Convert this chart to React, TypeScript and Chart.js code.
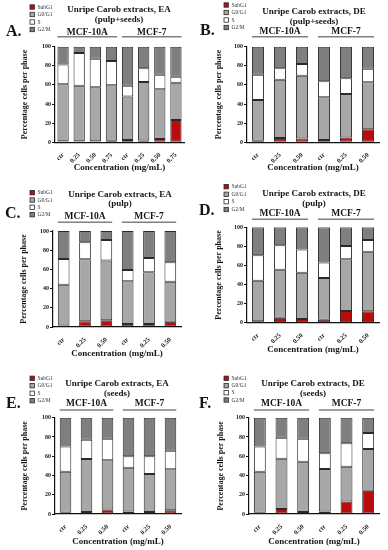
import React, { useEffect, useRef } from "react";
import { Chart, registerables } from "chart.js";
Chart.register(...registerables);

const FONT = "'Liberation Serif', 'Times New Roman', serif";

const PHASES = ["SubG1", "G0/G1", "S", "G2/M"];
const PHASE_COLORS = ["#b90d0d", "#a7a7a7", "#ffffff", "#7f7f7f"];
const GROUPS = ["MCF-10A", "MCF-7"];
const CONC_4 = ["ctr", "0.25", "0.50", "0.75"];
const CONC_3 = ["ctr", "0.25", "0.50"];
const Y_TICKS = [0, 20, 40, 60, 80, 100];
const X_TITLE = "Concentration (mg/mL)";
const Y_TITLE = "Percentage cells per phase";

// Panel A: EA (pulp+seeds)
const A_SUBG1 = [1, 1, 1, 1.5, 2.5, 2, 3.5, 23.3];
const A_G0G1 = [59.6, 58.2, 56.5, 58.1, 45.5, 61, 51.9, 39.1];
const A_S = [20.9, 34.2, 30, 25.4, 11.2, 14.4, 15.3, 6.2];
const A_G2M = [18.5, 6.6, 12.5, 15, 40.8, 22.6, 29.3, 31.4];

// Panel B: DE (pulp+seeds)
const B_SUBG1 = [1.5, 4.5, 4, 2.5, 5, 13.6];
const B_G0G1 = [42.8, 61, 65.7, 44.5, 45.5, 49.1];
const B_S = [26.4, 11.9, 12.3, 16.8, 16.5, 14.3];
const B_G2M = [29.3, 22.6, 18, 36.2, 33, 23];

// Panel C: EA (pulp)
const C_SUBG1 = [1.5, 6, 7, 3, 3, 5.5];
const C_G0G1 = [42.5, 64.5, 62.4, 44.6, 54, 41.7];
const C_S = [26.8, 17.7, 21.2, 11.8, 15, 20.2];
const C_G2M = [29.2, 11.8, 9.4, 40.6, 28, 32.6];

// Panel D: DE (pulp)
const D_SUBG1 = [1.5, 5.2, 4, 3, 12.2, 12];
const D_G0G1 = [42.5, 50.4, 48.4, 43.9, 54.2, 62.5];
const D_S = [26.6, 25.5, 24.2, 16.1, 14, 12.2];
const D_G2M = [29.4, 18.9, 23.4, 37, 19.6, 13.3];

// Panel E: EA (seeds)
const E_SUBG1 = [1.3, 2, 4.8, 2.5, 2, 3.8];
const E_G0G1 = [42.7, 55, 50.9, 45.5, 39.5, 42.6];
const E_S = [26.2, 20, 22.5, 12, 18.5, 19.3];
const E_G2M = [29.8, 23, 21.8, 40, 40, 34.3];

// Panel F: DE (seeds)
const F_SUBG1 = [1.3, 5.2, 2, 2.5, 13.1, 24.2];
const F_G0G1 = [42.7, 52.2, 52.3, 44.2, 36, 43.3];
const F_S = [26.2, 21.8, 23.9, 16.3, 24.3, 16.5];
const F_G2M = [29.8, 20.8, 21.8, 37, 26.6, 16];

type Layout = {
  left: number; top: number; w: number; h: number;
  plotLeft: number; plotRight: number; plotTop: number; plotBottom: number;
  yTitleX: number; xTitleY: number; titleX: number; titleY: number[];
  legendX: number; legendY: number[]; letterX: number; letterY: number;
  groupY: number; lineY: number; barPct: number;
};

type PanelDef = {
  letter: string;
  title: string[];
  conc: string[];
  series: number[][];
  layout: Layout;
};

const PANELS: PanelDef[] = [
  {
    letter: "A.", title: ["Unripe Carob extracts, EA", "(pulp+seeds)"], conc: CONC_4,
    series: [A_SUBG1, A_G0G1, A_S, A_G2M],
    layout: { left: 0, top: 0, w: 194, h: 180, plotLeft: 55, plotRight: 184, plotTop: 46.7, plotBottom: 142.3,
      yTitleX: 25, xTitleY: 168, titleX: 119, titleY: [10, 20], legendX: 30, legendY: [7, 14.5, 22, 29.5],
      letterX: 6, letterY: 36, groupY: 32.3, lineY: 36.7, barPct: 0.7 },
  },
  {
    letter: "B.", title: ["Unripe Carob extracts, DE", "(pulp+seeds)"], conc: CONC_3,
    series: [B_SUBG1, B_G0G1, B_S, B_G2M],
    layout: { left: 194, top: 0, w: 194, h: 180, plotLeft: 53, plotRight: 185, plotTop: 46.7, plotBottom: 142.3,
      yTitleX: 25, xTitleY: 168, titleX: 120, titleY: [12, 22], legendX: 30, legendY: [5, 12.5, 20, 27.5],
      letterX: 6, letterY: 35, groupY: 32, lineY: 36.7, barPct: 0.55 },
  },
  {
    letter: "C.", title: ["Unripe Carob extracts, EA", "(pulp)"], conc: CONC_3,
    series: [C_SUBG1, C_G0G1, C_S, C_G2M],
    layout: { left: 0, top: 180, w: 194, h: 180, plotLeft: 53, plotRight: 181, plotTop: 51, plotBottom: 147,
      yTitleX: 24, xTitleY: 173.3, titleX: 120, titleY: [15, 24], legendX: 30, legendY: [12.7, 20, 27.3, 34.7],
      letterX: 5, letterY: 37.7, groupY: 36.7, lineY: 42.3, barPct: 0.55 },
  },
  {
    letter: "D.", title: ["Unripe Carob extracts, DE", "(pulp)"], conc: CONC_3,
    series: [D_SUBG1, D_G0G1, D_S, D_G2M],
    layout: { left: 194, top: 180, w: 194, h: 180, plotLeft: 53, plotRight: 185, plotTop: 47.3, plotBottom: 142.7,
      yTitleX: 25, xTitleY: 169.3, titleX: 120, titleY: [13.3, 23.3], legendX: 30, legendY: [6.7, 14.3, 21.7, 29.5],
      letterX: 5, letterY: 35, groupY: 33.3, lineY: 39.3, barPct: 0.55 },
  },
  {
    letter: "E.", title: ["Unripe Carob extracts, EA", "(seeds)"], conc: CONC_3,
    series: [E_SUBG1, E_G0G1, E_S, E_G2M],
    layout: { left: 0, top: 360, w: 194, h: 190, plotLeft: 55, plotRight: 181, plotTop: 57.7, plotBottom: 154,
      yTitleX: 25, xTitleY: 181.7, titleX: 117, titleY: [23.3, 33.3], legendX: 30, legendY: [18.3, 25.7, 33.3, 40.7],
      letterX: 6, letterY: 48.3, groupY: 44, lineY: 50, barPct: 0.55 },
  },
  {
    letter: "F.", title: ["Unripe Carob extracts, DE", "(seeds)"], conc: CONC_3,
    series: [F_SUBG1, F_G0G1, F_S, F_G2M],
    layout: { left: 194, top: 360, w: 194, h: 190, plotLeft: 55, plotRight: 185, plotTop: 57.7, plotBottom: 154,
      yTitleX: 26.5, xTitleY: 181.7, titleX: 119, titleY: [23.3, 33.3], legendX: 30, legendY: [18.3, 25.7, 32.7, 40],
      letterX: 5, letterY: 48.3, groupY: 44, lineY: 50, barPct: 0.55 },
  },
];

const TEXT = "#151515";
const BORDER = "#2a2a2a";

function Panel({ def }: { def: PanelDef }) {
  const ref = useRef<HTMLCanvasElement | null>(null);
  useEffect(() => {
    const L = def.layout;
    const labels = [...def.conc, ...def.conc];
    const perGroup = def.conc.length;
    const yTitleLH = 8 * 1.2;
    const xTitleLH = 9 * 1.2;
    const padLeft = L.yTitleX - yTitleLH / 2;
    const yWidth = L.plotLeft - padLeft;
    const xScaleBottom = L.xTitleY + xTitleLH / 2;
    const padBottom = L.h - xScaleBottom;
    const xHeight = xScaleBottom - L.plotBottom;

    const annot = {
      id: "annot",
      afterDraw(chart: any) {
        const ctx = chart.ctx as CanvasRenderingContext2D;
        ctx.save();
        // panel letter
        ctx.fillStyle = TEXT;
        ctx.font = `bold 16px ${FONT}`;
        ctx.textAlign = "left";
        ctx.textBaseline = "alphabetic";
        ctx.fillText(def.letter, L.letterX, L.letterY);
        // title
        ctx.font = `bold 9px ${FONT}`;
        ctx.textAlign = "center";
        ctx.textBaseline = "middle";
        def.title.forEach((t, i) => ctx.fillText(t, L.titleX, L.titleY[i]));
        // legend
        ctx.font = `5.5px ${FONT}`;
        ctx.textAlign = "left";
        PHASES.forEach((p, i) => {
          const y = L.legendY[i];
          ctx.fillStyle = PHASE_COLORS[i];
          ctx.fillRect(L.legendX, y - 2.2, 4.4, 4.4);
          ctx.strokeStyle = BORDER;
          ctx.lineWidth = 0.8;
          ctx.strokeRect(L.legendX, y - 2.2, 4.4, 4.4);
          ctx.fillStyle = "#333";
          ctx.fillText(p, L.legendX + 7.5, y + 0.3);
        });
        // group labels
        const meta = chart.getDatasetMeta(0);
        GROUPS.forEach((g, gi) => {
          const first = meta.data[gi * perGroup];
          const last = meta.data[gi * perGroup + perGroup - 1];
          const x0 = first.x - first.width / 2;
          const x1 = last.x + last.width / 2;
          ctx.strokeStyle = "#808080";
          ctx.lineWidth = 1.4;
          ctx.beginPath();
          ctx.moveTo(x0, L.lineY);
          ctx.lineTo(x1, L.lineY);
          ctx.stroke();
          ctx.fillStyle = TEXT;
          ctx.font = `bold 9.5px ${FONT}`;
          ctx.textAlign = "center";
          ctx.textBaseline = "middle";
          ctx.fillText(g, (x0 + x1) / 2, L.groupY);
        });
        ctx.restore();
      },
    };

    const chart = new Chart(ref.current as HTMLCanvasElement, {
      type: "bar",
      data: {
        labels,
        datasets: PHASES.map((p, i) => ({
          label: p,
          data: def.series[i],
          backgroundColor: PHASE_COLORS[i],
          borderColor: BORDER,
          borderWidth: 1,
          borderSkipped: false,
          barPercentage: L.barPct,
          categoryPercentage: 1,
        })),
      },
      options: {
        animation: false,
        responsive: false,
        devicePixelRatio: 1,
        layout: { padding: { left: padLeft, top: L.plotTop, right: L.w - L.plotRight, bottom: padBottom } },
        plugins: { legend: { display: false }, title: { display: false }, tooltip: { enabled: false } },
        scales: {
          x: {
            stacked: true,
            offset: true,
            grid: { display: false },
            border: { display: true, color: "#111", width: 1.2 },
            ticks: {
              autoSkip: false, maxRotation: 45, minRotation: 45, padding: 1,
              color: TEXT, font: { family: FONT, size: 6.5, weight: "bold" },
            },
            title: { display: true, text: X_TITLE, padding: 0, color: TEXT, font: { family: FONT, size: 9, weight: "bold", lineHeight: 1.2 } },
            afterFit: (s: any) => { s.height = xHeight; },
          },
          y: {
            stacked: true,
            min: 0,
            max: 100,
            afterBuildTicks: (s: any) => { s.ticks = Y_TICKS.map((v) => ({ value: v })); },
            grid: { display: true, drawOnChartArea: false, drawTicks: true, tickLength: 3, color: "#111", lineWidth: 1 },
            border: { display: true, color: "#111", width: 1.2 },
            ticks: { padding: 1, color: TEXT, font: { family: FONT, size: 6, weight: "bold" } },
            title: { display: true, text: Y_TITLE, padding: 0, color: TEXT, font: { family: FONT, size: 8, weight: "bold", lineHeight: 1.2 } },
            afterFit: (s: any) => { s.width = yWidth; },
          },
        },
      },
      plugins: [annot],
    } as any);
    return () => chart.destroy();
  }, [def]);
  const L = def.layout;
  return (
    <canvas
      ref={ref}
      width={L.w}
      height={L.h}
      style={{ position: "absolute", left: L.left, top: L.top, width: L.w, height: L.h }}
    />
  );
}

export default function App() {
  return (
    <div style={{ position: "absolute", left: 0, top: 0, width: 388, height: 550, background: "#fff", overflow: "hidden" }}>
      {PANELS.map((p) => (
        <Panel key={p.letter} def={p} />
      ))}
    </div>
  );
}
